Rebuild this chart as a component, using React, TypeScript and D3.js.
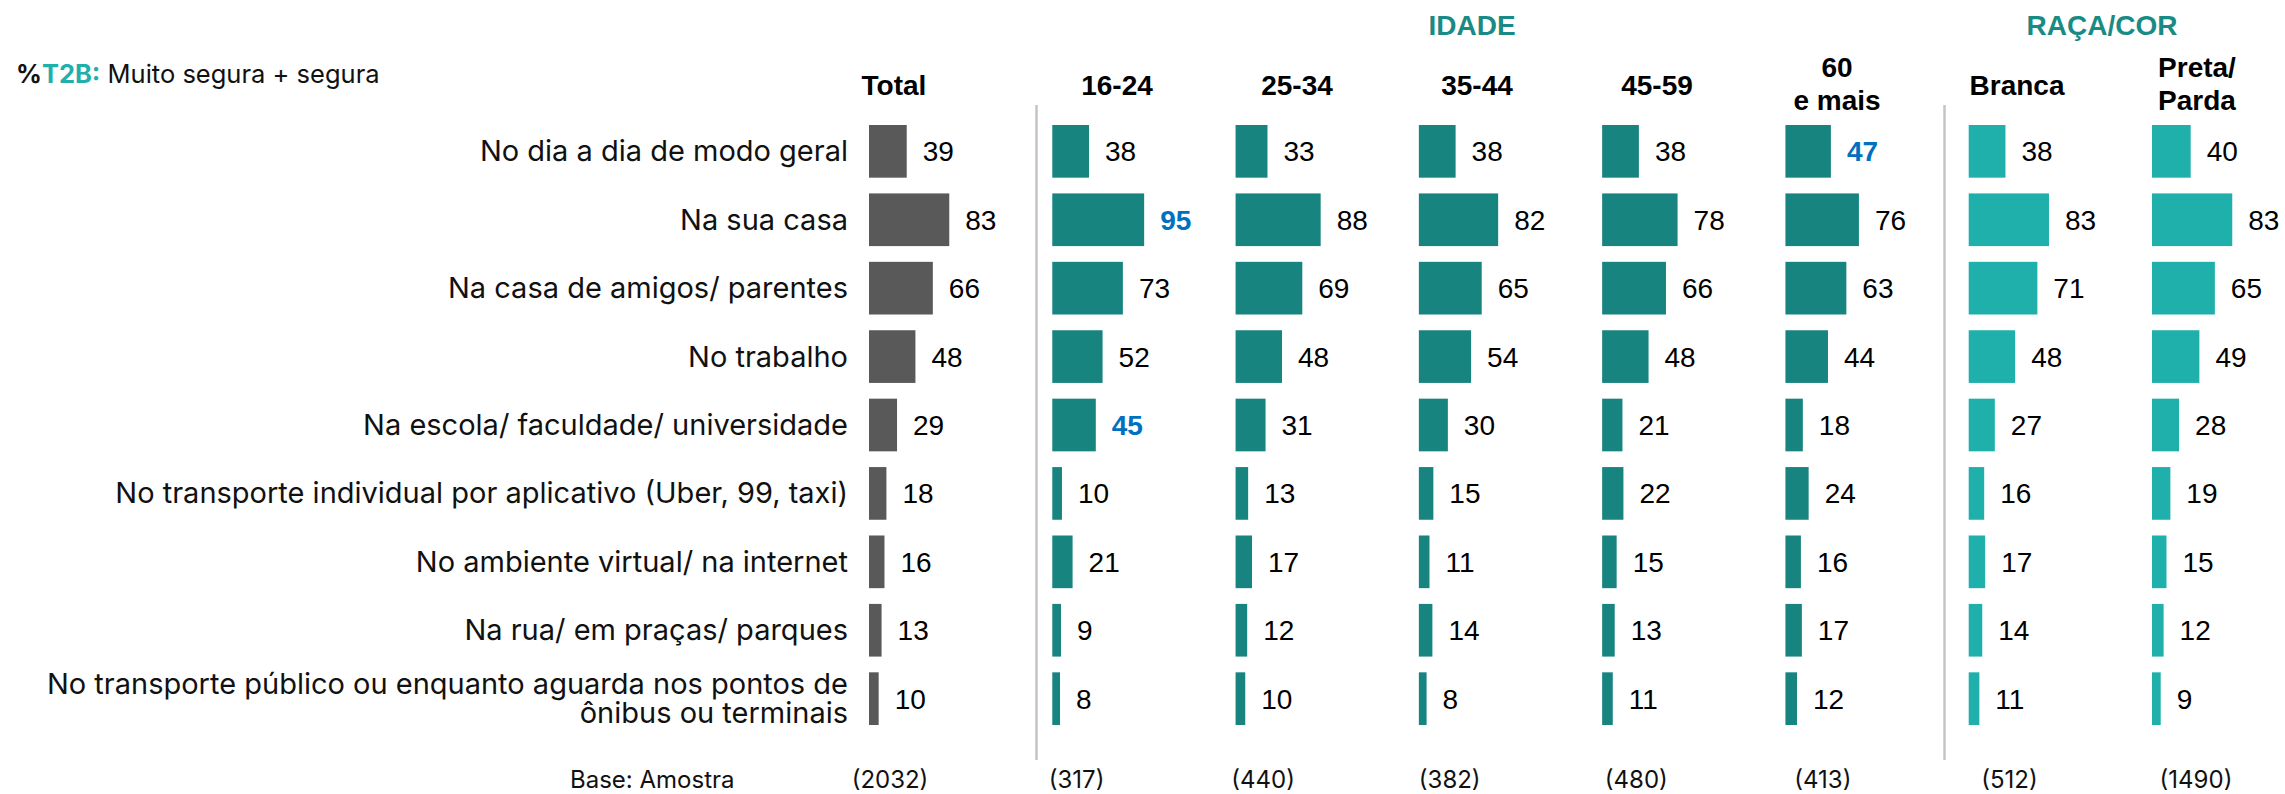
import * as d3 from 'd3'

const categories = [
  'No dia a dia de modo geral',
  'Na sua casa',
  'Na casa de amigos/ parentes',
  'No trabalho',
  'Na escola/ faculdade/ universidade',
  'No transporte individual por aplicativo (Uber, 99, taxi)',
  'No ambiente virtual/ na internet',
  'Na rua/ em praças/ parques',
  'No transporte público ou enquanto aguarda nos pontos de\nônibus ou terminais',
]

const columnLabels = ['Total', '16-24', '25-34', '35-44', '45-59', '60\ne mais', 'Branca', 'Preta/\nParda']
const columnGroups = ['total', 'idade', 'idade', 'idade', 'idade', 'idade', 'raca', 'raca']
const bases = ['(2032)', '(317)', '(440)', '(382)', '(480)', '(413)', '(512)', '(1490)']

const total = [39, 83, 66, 48, 29, 18, 16, 13, 10]
const age1624 = [38, 95, 73, 52, 45, 10, 21, 9, 8]
const age2534 = [33, 88, 69, 48, 31, 13, 17, 12, 10]
const age3544 = [38, 82, 65, 54, 30, 15, 11, 14, 8]
const age4559 = [38, 78, 66, 48, 21, 22, 15, 13, 11]
const age60 = [47, 76, 63, 44, 18, 24, 16, 17, 12]
const branca = [38, 83, 71, 48, 27, 16, 17, 14, 11]
const pretaParda = [40, 83, 65, 49, 28, 19, 15, 12, 9]

const series = [total, age1624, age2534, age3544, age4559, age60, branca, pretaParda]

// [column, row] of values shown in blue bold
const highlights = [
  [1, 1],
  [1, 4],
  [5, 0],
]

const groupTitles = [
  { key: 'idade', label: 'IDADE' },
  { key: 'raca', label: 'RAÇA/COR' },
]

const W = 2285
const H = 794
const ARIAL = "'Liberation Sans', Arial, sans-serif"
const SOFT = "Inter, 'Open Sans', sans-serif"

const barColor: Record<string, string> = {
  total: '#595959',
  idade: '#188480',
  raca: '#1fb0ac',
}

const App = () => {
  const y = d3
    .scaleBand<number>()
    .domain(d3.range(categories.length))
    .range([125, 725])
    .paddingInner(0.23)
    .paddingOuter(0)

  const colX = d3.scaleLinear().domain([0, 7]).range([869, 2152])
  const len = d3.scaleLinear().domain([0, 100]).range([0, 96.7])
  const headX = d3.scaleLinear().domain([1, 7]).range([1117, 2197])
  const baseX = d3.scaleLinear().domain([0, 7]).range([890, 2196])

  const isHi = (c: number, r: number) => highlights.some(([hc, hr]) => hc === c && hr === r)
  const bw = y.bandwidth()

  const groupCenter = (key: string) => {
    const idx = columnGroups.map((g, i) => (g === key ? i : -1)).filter((i) => i >= 0)
    const xs = idx.map((i) => (i === 0 ? colX(0) + 25 : headX(i)))
    return (d3.min(xs)! + d3.max(xs)!) / 2 - 5
  }

  return (
    <>
      <style>{`body{margin:0}`}</style>
      <svg width={W} height={H} style={{ display: 'block', background: '#fff' }} fontFamily={ARIAL}>
        <text x={16} y={83} fontSize={25.5} fontFamily={SOFT} fill="#111">
          <tspan fontWeight="bold">%</tspan>
          <tspan fontWeight="bold" fill="#1fb0ac">T2B:</tspan>
          <tspan> Muito segura + segura</tspan>
        </text>

        {groupTitles.map((g) => (
          <text
            key={g.key}
            x={groupCenter(g.key)}
            y={35}
            textAnchor="middle"
            fontSize={28}
            fontWeight="bold"
            fill="#1a8a84"
          >
            {g.label}
          </text>
        ))}

        {columnLabels.map((lab, i) => {
          const lines = lab.split('\n')
          const cx = i === 0 ? colX(0) + 25 : headX(i)
          return (
            <text key={lab} x={cx} textAnchor="middle" fontSize={28} fontWeight="bold">
              {lines.map((ln, k) => (
                <tspan key={k} x={cx} y={lines.length === 1 ? 95 : 77 + k * 33}>
                  {ln}
                </tspan>
              ))}
            </text>
          )
        })}

        {[1036.5, 1944.5].map((sx) => (
          <line key={sx} x1={sx} x2={sx} y1={105} y2={760} stroke="#c4c4c4" strokeWidth={2.5} />
        ))}

        {categories.map((cat, r) => {
          const lines = cat.split('\n')
          const cy = y(r)! + bw / 2
          return (
            <text key={cat} textAnchor="end" fontSize={29} fontFamily={SOFT} fill="#111">
              {lines.map((ln, k) => (
                <tspan key={k} x={848} y={cy + 10 + (k - (lines.length - 1) / 2) * 29}>
                  {ln}
                </tspan>
              ))}
            </text>
          )
        })}

        {series.map((vals, c) => (
          <g key={c}>
            {vals.map((v, r) => {
              const x0 = colX(c)
              const cy = y(r)! + bw / 2
              const hi = isHi(c, r)
              return (
                <g key={r}>
                  <rect x={x0} y={y(r)} width={len(v)} height={bw} fill={barColor[columnGroups[c]]} />
                  <text
                    x={x0 + len(v) + 16}
                    y={cy + 10}
                    fontSize={28}
                    fontWeight={hi ? 'bold' : 'normal'}
                    fill={hi ? '#0070c0' : '#000'}
                  >
                    {v}
                  </text>
                </g>
              )
            })}
          </g>
        ))}

        <text x={570} y={788} fontSize={24} fontFamily={SOFT} fill="#111">
          Base: Amostra
        </text>
        {bases.map((b, i) => (
          <text key={i} x={baseX(i)} y={788} fontSize={24} fontFamily={SOFT} fill="#111" textAnchor="middle">
            {b}
          </text>
        ))}
      </svg>
    </>
  )
}

export default App
